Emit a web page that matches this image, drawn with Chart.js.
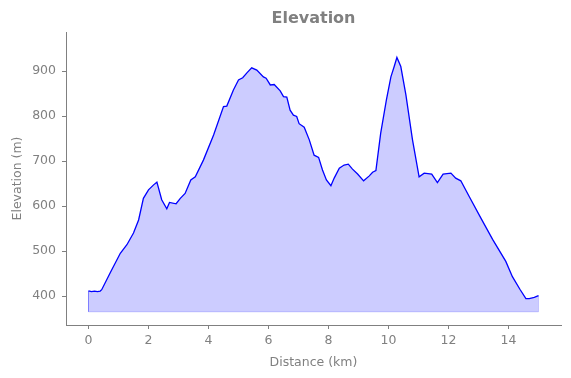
<!DOCTYPE html>
<html>
<head>
<meta charset="utf-8">
<script src="https://cdn.jsdelivr.net/npm/chart.js@4.4.1/dist/chart.umd.min.js"></script>
<style>
  html, body { margin: 0; padding: 0; background: #ffffff; }
  canvas { display: block; }
</style>
</head>
<body>
<canvas id="chart-elevation" width="571" height="378"></canvas>
<script>
// profile
const distKm = [0, 0.1, 0.2, 0.3, 0.39, 0.44, 0.72, 1.06, 1.28, 1.5, 1.67, 1.83, 2.0, 2.17, 2.28,
    2.44, 2.61, 2.7, 2.92, 3.06, 3.22, 3.41, 3.56, 3.83, 4.17, 4.5, 4.61, 4.83, 5.0, 5.14, 5.28,
    5.44, 5.61, 5.83, 5.92, 6.06, 6.19, 6.39, 6.5, 6.61, 6.72, 6.83, 6.94, 7.02, 7.19, 7.36, 7.52,
    7.67, 7.8, 7.93, 8.08, 8.19, 8.36, 8.52, 8.66, 8.8, 8.97, 9.17, 9.36, 9.47, 9.58, 9.74, 9.93,
    10.08, 10.19, 10.28, 10.41, 10.58, 10.8, 11.02, 11.19, 11.44, 11.63, 11.82, 12.08, 12.24,
    12.41, 12.69, 13.08, 13.47, 13.91, 14.13, 14.38, 14.58, 14.69, 14.86, 15.0];
const elevM = [411.5, 410, 411, 410, 411, 414, 451, 495, 514, 540, 569, 617, 636, 647, 653,
    614, 594, 608, 605, 617, 628, 658, 665, 702, 758, 821, 822, 858, 880, 885, 896,
    907, 902, 887, 884, 869, 870, 856, 843, 842, 813, 802, 799, 783, 775, 747, 713,
    708, 680, 658, 645, 662, 684, 691, 693, 682, 671, 656, 667, 675, 679, 762, 836,
    887, 910, 930, 910, 847, 747, 665, 673, 671, 652, 671, 673, 662,
    656, 621, 573, 526, 477, 443, 415, 394, 394, 397, 401];
const fillBase = 365;
const xTicks = [0, 2, 4, 6, 8, 10, 12, 14];
const yTicks = [400, 500, 600, 700, 800, 900];

const GRAY = '#808080';
const FONT = 'DejaVu Sans';

const profile = distKm.map((d, i) => ({ x: d, y: elevM[i] }));
const last = distKm.length - 1;
// outline of the filled area (left side, base, right side)
const outline = [
    { x: distKm[0], y: elevM[0] },
    { x: distKm[0], y: fillBase },
    { x: distKm[last], y: fillBase },
    { x: distKm[last], y: elevM[last] }
];

var ctx = document.getElementById('chart-elevation').getContext('2d');
var chart_elevation = new Chart(ctx, {
    type: 'line',
    data: {
        datasets: [{
            label: 'Elevation',
            data: profile,
            borderColor: '#0000ff',
            borderWidth: 1.3,
            backgroundColor: 'rgba(0, 0, 255, 0.2)',
            fill: { value: fillBase },
            pointRadius: 0,
            tension: 0
        }, {
            label: 'edge',
            data: outline,
            borderColor: 'rgba(0, 0, 255, 0.2)',
            borderWidth: 1,
            fill: false,
            pointRadius: 0,
            tension: 0
        }]
    },
    options: {
        responsive: false,
        animation: false,
        devicePixelRatio: 1,
        layout: { padding: { left: 0, right: 10, top: 0, bottom: 0 } },
        plugins: {
            legend: { display: false },
            tooltip: { enabled: false },
            title: {
                display: true,
                text: 'Elevation',
                fullSize: false,
                color: GRAY,
                font: { family: FONT, size: 16, weight: 'bold', lineHeight: 1.2 },
                padding: { top: 9, bottom: 3.8 }
            }
        },
        scales: {
            x: {
                type: 'linear',
                min: -0.75,
                max: 15.75,
                afterBuildTicks: (scale) => { scale.ticks = xTicks.map(v => ({ value: v })); },
                afterFit: (scale) => { scale.height = 53; },
                ticks: {
                    color: GRAY,
                    font: { family: FONT, size: 12.5 },
                    padding: 4,
                    maxRotation: 0
                },
                grid: {
                    drawOnChartArea: false,
                    drawTicks: true,
                    tickLength: 4,
                    color: GRAY
                },
                border: { display: true, color: GRAY, width: 1 },
                title: {
                    display: true,
                    text: 'Distance (km)',
                    color: GRAY,
                    font: { family: FONT, size: 12.5, lineHeight: 1.2 },
                    padding: { top: 0, bottom: 7.5 }
                }
            },
            y: {
                type: 'linear',
                min: 335.6,
                max: 986.7,
                afterBuildTicks: (scale) => { scale.ticks = yTicks.map(v => ({ value: v })); },
                afterFit: (scale) => { scale.width = 66; },
                ticks: {
                    color: GRAY,
                    font: { family: FONT, size: 12.5 },
                    padding: 6
                },
                grid: {
                    drawOnChartArea: false,
                    drawTicks: true,
                    tickLength: 4,
                    color: GRAY
                },
                border: { display: true, color: GRAY, width: 1 },
                title: {
                    display: true,
                    text: 'Elevation (m)',
                    color: GRAY,
                    font: { family: FONT, size: 12.5, lineHeight: 1.2 },
                    padding: { top: 10.5, bottom: 0 }
                }
            }
        }
    }
});
</script>
</body>
</html>
